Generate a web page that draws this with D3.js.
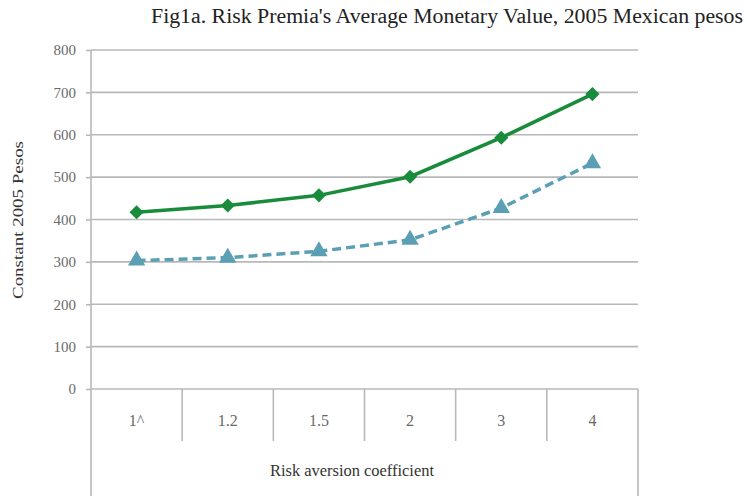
<!DOCTYPE html>
<html>
<head>
<meta charset="utf-8">
<script src="https://cdn.jsdelivr.net/npm/d3@7"></script>
<style>
  html, body { margin: 0; padding: 0; background: #fff; }
  svg text { font-family: "Liberation Serif", "DejaVu Serif", serif; }
</style>
</head>
<body>
<svg id="chart" width="747" height="496"></svg>
<script>
// Risk aversion coefficients (category axis)
const categories = ["1^", "1.2", "1.5", "2", "3", "4"];
// Average monetary value of risk premia, constant 2005 pesos
const seriesA = [417, 433, 457, 501, 593, 696];
const seriesB = [303, 310, 325, 352, 427, 533];
const yTicks = [0, 100, 200, 300, 400, 500, 600, 700, 800];

const svg = d3.select("#chart");
const plotL = 91, plotR = 638, plotT = 50, plotB = 389;
const gridColor = "#b8b8b8";
const serif = "Liberation Serif, DejaVu Serif, serif";

const x = d3.scaleBand().domain(categories).range([plotL, plotR]);
const y = d3.scaleLinear().domain([0, 800]).range([plotB, plotT]);
const cx = d => x(d) + x.bandwidth() / 2;

// horizontal gridlines
svg.append("g").selectAll("line").data(yTicks).join("line")
  .attr("x1", plotL).attr("x2", plotR)
  .attr("y1", d => y(d)).attr("y2", d => y(d))
  .attr("stroke", gridColor).attr("stroke-width", 1.6);

// y axis
const yAxis = d3.axisLeft(y).tickValues(yTicks).tickSize(5).tickPadding(10);
const gy = svg.append("g").attr("transform", `translate(${plotL},0)`).call(yAxis)
  .attr("font-family", serif).attr("font-size", 15);
gy.select(".domain").remove();
gy.selectAll(".tick line").attr("stroke", gridColor).attr("stroke-width", 1.6);
gy.selectAll(".tick text").attr("fill", "#6a6a6a");

// left spine running through the category area, right edge of category box
svg.append("line").attr("x1", plotL).attr("x2", plotL).attr("y1", plotT).attr("y2", 496)
  .attr("stroke", gridColor).attr("stroke-width", 1.6);
svg.append("line").attr("x1", plotR).attr("x2", plotR).attr("y1", plotB).attr("y2", 496)
  .attr("stroke", gridColor).attr("stroke-width", 1.6);

// category dividers
const dividers = categories.slice(1).map(c => x(c));
svg.append("g").selectAll("line").data(dividers).join("line")
  .attr("x1", d => d).attr("x2", d => d)
  .attr("y1", plotB).attr("y2", 441)
  .attr("stroke", gridColor).attr("stroke-width", 1.6);

// category labels
svg.append("g").selectAll("text").data(categories).join("text")
  .attr("x", d => cx(d)).attr("y", 426)
  .attr("text-anchor", "middle").attr("fill", "#6a6a6a")
  .style("font-size", "16px").text(d => d);

// x axis title
svg.append("text").attr("x", 352).attr("y", 476)
  .attr("text-anchor", "middle").attr("fill", "#333")
  .attr("textLength", 164).attr("lengthAdjust", "spacingAndGlyphs")
  .style("font-size", "16px").text("Risk aversion coefficient");

// y axis title
svg.append("text")
  .attr("transform", "translate(23,220) rotate(-90)")
  .attr("text-anchor", "middle").attr("fill", "#333")
  .attr("textLength", 158).attr("lengthAdjust", "spacingAndGlyphs")
  .style("font-size", "15px").text("Constant 2005 Pesos");

// chart title
svg.append("text").attr("x", 447).attr("y", 23)
  .attr("text-anchor", "middle").attr("fill", "#222")
  .attr("textLength", 592).attr("lengthAdjust", "spacingAndGlyphs")
  .style("font-size", "20px")
  .text("Fig1a. Risk Premia's Average Monetary Value,  2005 Mexican pesos");

const line = d3.line().x((d, i) => cx(categories[i])).y(d => y(d));

// dashed series with triangles
svg.append("path").datum(seriesB).attr("d", line)
  .attr("fill", "none").attr("stroke", "#5b9fb4").attr("stroke-width", 3.5)
  .attr("stroke-dasharray", "9,5");
svg.append("g").selectAll("path").data(seriesB).join("path")
  .attr("d", d3.symbol(d3.symbolTriangle, 130)())
  .attr("transform", (d, i) => `translate(${cx(categories[i])},${y(d)})`)
  .attr("fill", "#5b9fb4");

// solid series with diamonds
svg.append("path").datum(seriesA).attr("d", line)
  .attr("fill", "none").attr("stroke", "#198c3c").attr("stroke-width", 3.5);
svg.append("g").selectAll("path").data(seriesA).join("path")
  .attr("d", d3.symbol(d3.symbolSquare, 100)())
  .attr("transform", (d, i) => `translate(${cx(categories[i])},${y(d)}) rotate(45)`)
  .attr("fill", "#198c3c");
</script>
</body>
</html>
